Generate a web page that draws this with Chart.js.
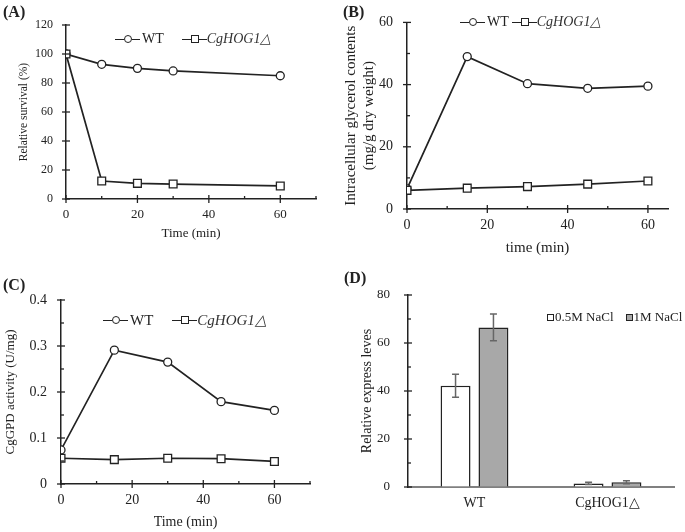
<!DOCTYPE html>
<html>
<head>
<meta charset="utf-8">
<script src="https://cdn.jsdelivr.net/npm/chart.js@4.4.0/dist/chart.umd.min.js"></script>
<style>
  body { margin: 0; background: #fff; font-family: "Liberation Serif", "Times New Roman", serif; color: #222; }
  #page { position: relative; width: 685px; height: 532px; overflow: hidden; }
  canvas { position: absolute; }
  .tag { position: absolute; font-weight: bold; font-size: 16px; line-height: 16px; }
  .legend { position: absolute; display: flex; align-items: center; font-size: 14px; line-height: 16px; white-space: nowrap; }
  .key { display: inline-flex; align-items: center; }
  .seg { width: 9px; height: 0; border-top: 1.5px solid #222; }
  .mk { width: 8px; height: 8px; border: 1.3px solid #222; background: #fff; box-sizing: border-box; }
  .mk.circle { border-radius: 50%; }
  .box { width: 7px; height: 7px; border: 1.3px solid #222; box-sizing: border-box; margin-right: 1px; }
  .it { font-style: italic; color: #333; }
</style>
</head>
<body>
<div id="page">
  <canvas id="cA" width="340" height="250" style="left:0;top:0"></canvas>
  <canvas id="cB" width="345" height="260" style="left:340px;top:0"></canvas>
  <canvas id="cC" width="340" height="267" style="left:0;top:265px"></canvas>
  <canvas id="cD" width="345" height="267" style="left:340px;top:265px"></canvas>
  <div class="tag" style="left:3px;top:4px">(A)</div>
  <div class="tag" style="left:343px;top:4px">(B)</div>
  <div class="tag" style="left:3px;top:277px">(C)</div>
  <div class="tag" style="left:344px;top:270px">(D)</div>
</div>
<script>
// panel A - relative survival
const timeA = [0, 10, 20, 30, 60];
const survivalWT = [100, 92.9, 90.1, 88.3, 85];
const survivalHog1 = [100, 12.4, 10.8, 10.3, 9];

// panel B - glycerol contents
const timeB = [0, 15, 30, 45, 60];
const glycerolWT = [6.5, 49, 40.3, 38.8, 39.5];
const glycerolHog1 = [6.0, 6.7, 7.2, 8.0, 9.0];

// panel C - GPD activity
const timeC = [0, 15, 30, 45, 60];
const gpdWT = [0.074, 0.291, 0.265, 0.179, 0.16];
const gpdHog1 = [0.056, 0.053, 0.056, 0.055, 0.049];

// panel D - expression levels
const strains = ["WT", "CgHOG1△"];
const expr05 = [42.2, 1.5];
const expr05Err = [4.8, 0.5];
const expr1 = [66.5, 2.0];
const expr1Err = [5.6, 0.6];

const serif = "'Liberation Serif', 'Times New Roman', serif";
const ink = "#222";

// crossing major ticks, short minor ticks
const tickMarks = {
  id: "tickMarks",
  afterDraw(chart) {
    const ctx = chart.ctx;
    const area = chart.chartArea;
    ctx.save();
    ctx.strokeStyle = ink;
    ctx.lineWidth = 1.3;
    Object.values(chart.scales).forEach((scale) => {
      if (scale.type !== "linear") return;
      const step = scale.options.ticks.stepSize;
      scale.ticks.forEach((t) => {
        const r = t.value / step;
        if (Math.abs(r - Math.round(r)) > 1e-6) return;
        const major = t.label !== "";
        const p = scale.getPixelForValue(t.value);
        ctx.beginPath();
        if (scale.isHorizontal()) {
          ctx.moveTo(p, area.bottom - (major ? 4 : 3));
          ctx.lineTo(p, area.bottom + (major ? 4 : 0));
        } else {
          ctx.moveTo(area.left - (major ? 4 : 0), p);
          ctx.lineTo(area.left + (major ? 4 : 3), p);
        }
        ctx.stroke();
      });
    });
    ctx.restore();
  },
};

// error bars for the bar panel
const errorBars = {
  id: "errorBars",
  afterDatasetsDraw(chart) {
    const ctx = chart.ctx;
    const y = chart.scales.y;
    ctx.save();
    ctx.strokeStyle = "#666";
    ctx.lineWidth = 1.5;
    chart.data.datasets.forEach((ds, i) => {
      chart.getDatasetMeta(i).data.forEach((bar, j) => {
        const top = y.getPixelForValue(ds.data[j] + ds.errors[j]);
        const bot = y.getPixelForValue(ds.data[j] - ds.errors[j]);
        ctx.beginPath();
        ctx.moveTo(bar.x, top); ctx.lineTo(bar.x, bot);
        ctx.moveTo(bar.x - 3.5, top); ctx.lineTo(bar.x + 3.5, top);
        ctx.moveTo(bar.x - 3.5, bot); ctx.lineTo(bar.x + 3.5, bot);
        ctx.stroke();
      });
    });
    ctx.restore();
  },
};

function linAxis(o) {
  return {
    type: "linear",
    min: o.min,
    max: o.max,
    afterFit: (s) => { if (o.width) s.width = o.width; if (o.height) s.height = o.height; },
    grid: { display: true, drawOnChartArea: false, drawTicks: false },
    border: { display: true, color: ink, width: 1.5 },
    ticks: {
      stepSize: o.step,
      includeBounds: false,
      autoSkip: false,
      maxRotation: 0,
      padding: o.pad,
      color: ink,
      font: { family: serif, size: o.font },
      callback: (v) => {
        const r = v / o.labelStep;
        return Math.abs(r - Math.round(r)) < 1e-6 ? String(Number(v.toFixed(2))) : "";
      },
    },
    title: {
      display: !!o.title,
      text: o.title,
      color: ink,
      font: { family: serif, size: o.titleFont, lineHeight: o.titleLH || 1.2 },
      padding: { top: o.titlePad, bottom: o.titlePad },
    },
  };
}

function lineDatasets(xs, wt, hog) {
  const pts = (arr) => xs.map((x, i) => ({ x: x, y: arr[i] }));
  const common = { borderColor: ink, borderWidth: 1.7, pointBackgroundColor: "#fff", pointBorderColor: ink, pointBorderWidth: 1.3, tension: 0 };
  return [
    { ...common, label: "WT", data: pts(wt), pointStyle: "circle", pointRadius: 4, order: 1 },
    { ...common, label: "CgHOG1△", data: pts(hog), pointStyle: "rect", pointRadius: 5.5, order: 0 },
  ];
}

function lineChart(id, xs, wt, hog, padding, xAx, yAx) {
  return new Chart(document.getElementById(id), {
    type: "line",
    data: { datasets: lineDatasets(xs, wt, hog) },
    options: {
      responsive: false,
      animation: false,
      layout: { padding: padding },
      plugins: { legend: { display: false }, tooltip: { enabled: false } },
      scales: { x: linAxis(xAx), y: yAx },
    },
    plugins: [tickMarks],
  });
}

lineChart("cA", timeA, survivalWT, survivalHog1, { left: 0, top: 25, right: 24, bottom: 0 },
  { min: 0, max: 70, step: 10, labelStep: 20, font: 13, pad: 8, height: 51, title: "Time (min)", titleFont: 13, titlePad: 9 },
  linAxis({ min: 0, max: 120, step: 20, labelStep: 20, font: 12, pad: 13, width: 66, title: "Relative survival (%)", titleFont: 11.5, titlePad: 17 }));

lineChart("cB", timeB, glycerolWT, glycerolHog1, { left: 0, top: 15, right: 17, bottom: 0 },
  { min: 0, max: 65, step: 10, labelStep: 20, font: 14, pad: 8, height: 51, title: "time (min)", titleFont: 15, titlePad: 3 },
  linAxis({ min: 0, max: 60, step: 10, labelStep: 20, font: 14, pad: 14, width: 67, title: ["Intracellular glycerol contents", "(mg/g dry weight)"], titleFont: 15, titleLH: 1.2, titlePad: 2 }));

lineChart("cC", timeC, gpdWT, gpdHog1, { left: 0, top: 35, right: 30, bottom: 0 },
  { min: 0, max: 70, step: 10, labelStep: 20, font: 14, pad: 8, height: 48, title: "Time (min)", titleFont: 14, titlePad: 1.5 },
  linAxis({ min: 0, max: 0.4, step: 0.05, labelStep: 0.1, font: 14, pad: 14, width: 61, title: "CgGPD activity (U/mg)", titleFont: 13, titlePad: 3 }));

const yD = linAxis({ min: 0, max: 80, step: 10, labelStep: 20, font: 13, pad: 18, width: 68, title: "Relative express leves", titleFont: 14, titlePad: 19 });
new Chart(document.getElementById("cD"), {
  type: "bar",
  data: {
    labels: strains,
    datasets: [
      { label: "0.5M NaCl", data: expr05, errors: expr05Err, backgroundColor: "#fff", borderColor: ink, borderWidth: 1.5, categoryPercentage: 0.57, barPercentage: 0.79 },
      { label: "1M NaCl", data: expr1, errors: expr1Err, backgroundColor: "#a8a8a8", borderColor: ink, borderWidth: 1.5, categoryPercentage: 0.57, barPercentage: 0.79 },
    ],
  },
  options: {
    responsive: false,
    animation: false,
    layout: { padding: { left: 0, top: 30, right: 11, bottom: 0 } },
    plugins: { legend: { display: false }, tooltip: { enabled: false } },
    scales: {
      x: {
        afterFit: (s) => { s.height = 45; },
        grid: { display: true, drawOnChartArea: false, drawTicks: false },
        border: { display: true, color: "#808080", width: 2 },
        ticks: { padding: 8, color: ink, font: { family: serif, size: 14 } },
      },
      y: yD,
    },
  },
  plugins: [tickMarks, errorBars],
});

// html legends
function lineKey(shape) {
  return '<span class="key"><span class="seg"></span><span class="mk ' + shape + '"></span><span class="seg" style="width:8px"></span></span>';
}
function addLegend(left, cy, gap, size) {
  const d = document.createElement("div");
  d.className = "legend";
  d.style.left = left + "px";
  d.style.top = (cy - 8) + "px";
  d.style.fontSize = size + "px";
  d.innerHTML = lineKey("circle") + '<span style="margin-left:2px">WT</span>' +
    '<span style="width:' + gap + 'px"></span>' + lineKey("") + '<span class="it">CgHOG1△</span>';
  document.getElementById("page").appendChild(d);
}
addLegend(115, 39, 18, 14);
addLegend(460, 22, 3, 14);
addLegend(103, 320, 19, 15);

const dLeg = document.createElement("div");
dLeg.className = "legend";
dLeg.style.left = "547px";
dLeg.style.top = "309px";
dLeg.style.fontSize = "13px";
dLeg.innerHTML = '<span class="box" style="background:#fff"></span>0.5M NaCl' +
  '<span style="width:12px"></span><span class="box" style="background:#a8a8a8"></span>1M NaCl';
document.getElementById("page").appendChild(dLeg);
</script>
</body>
</html>
